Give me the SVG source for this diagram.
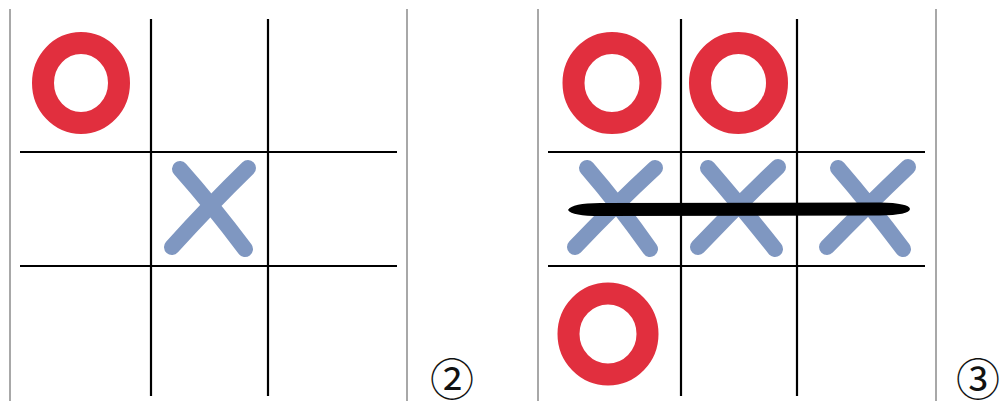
<svg xmlns="http://www.w3.org/2000/svg" width="1001" height="409" viewBox="0 0 1001 409">
<style>
.frame{stroke:#a8a8a8;stroke-width:2}
.grid{stroke:#000;stroke-width:2.2}
.o{fill:none;stroke:#e12f3e;stroke-width:22}
.x{stroke:#7f97c1;stroke-width:16;stroke-linecap:round;fill:none}
.num{font-family:"Noto Sans CJK JP","DejaVu Sans",sans-serif;font-size:44px;fill:#111}
</style>
<rect width="1001" height="409" fill="#fff"/>
<g id="board2">
<line class="frame" x1="10" y1="9" x2="10" y2="401"/>
<line class="frame" x1="407" y1="9" x2="407" y2="401"/>
<line class="grid" x1="151" y1="19" x2="151" y2="396"/>
<line class="grid" x1="268" y1="19" x2="268" y2="396"/>
<line class="grid" x1="20" y1="152" x2="397" y2="152"/>
<line class="grid" x1="20" y1="266" x2="397" y2="266"/>
<ellipse class="o" cx="81" cy="83" rx="38" ry="40"/>
<path class="x" d="M180,169 Q212,205 245,249 M248,168 Q210,205 172,247"/>
<text class="num" x="452" y="396" text-anchor="middle">②</text>
</g>
<g id="board3">
<line class="frame" x1="538" y1="9" x2="538" y2="401"/>
<line class="frame" x1="936" y1="9" x2="936" y2="401"/>
<line class="grid" x1="681" y1="19" x2="681" y2="396"/>
<line class="grid" x1="797" y1="19" x2="797" y2="396"/>
<line class="grid" x1="548" y1="152" x2="925" y2="152"/>
<line class="grid" x1="548" y1="266" x2="925" y2="266"/>
<ellipse class="o" cx="612" cy="83" rx="38.5" ry="40"/>
<ellipse class="o" cx="738.5" cy="83" rx="38.5" ry="40"/>
<ellipse class="o" cx="608" cy="334" rx="39.5" ry="40.5"/>
<path class="x" d="M587,168 Q619,205 650,249 M655,168 Q615,205 575,247"/>
<path class="x" d="M708,168 Q740,205 775,249 M778,167 Q738,205 698,247"/>
<path class="x" d="M838,168 Q870,205 903,249 M908,167 Q868,205 827,247"/>
<path fill="#000" d="M568,210 Q572,203 600,203 L880,202.5 Q909,203 910,209 Q909,215 880,215.5 L600,216 Q572,216 568,210 Z"/>
<text class="num" x="978" y="396" text-anchor="middle">③</text>
</g>
</svg>
